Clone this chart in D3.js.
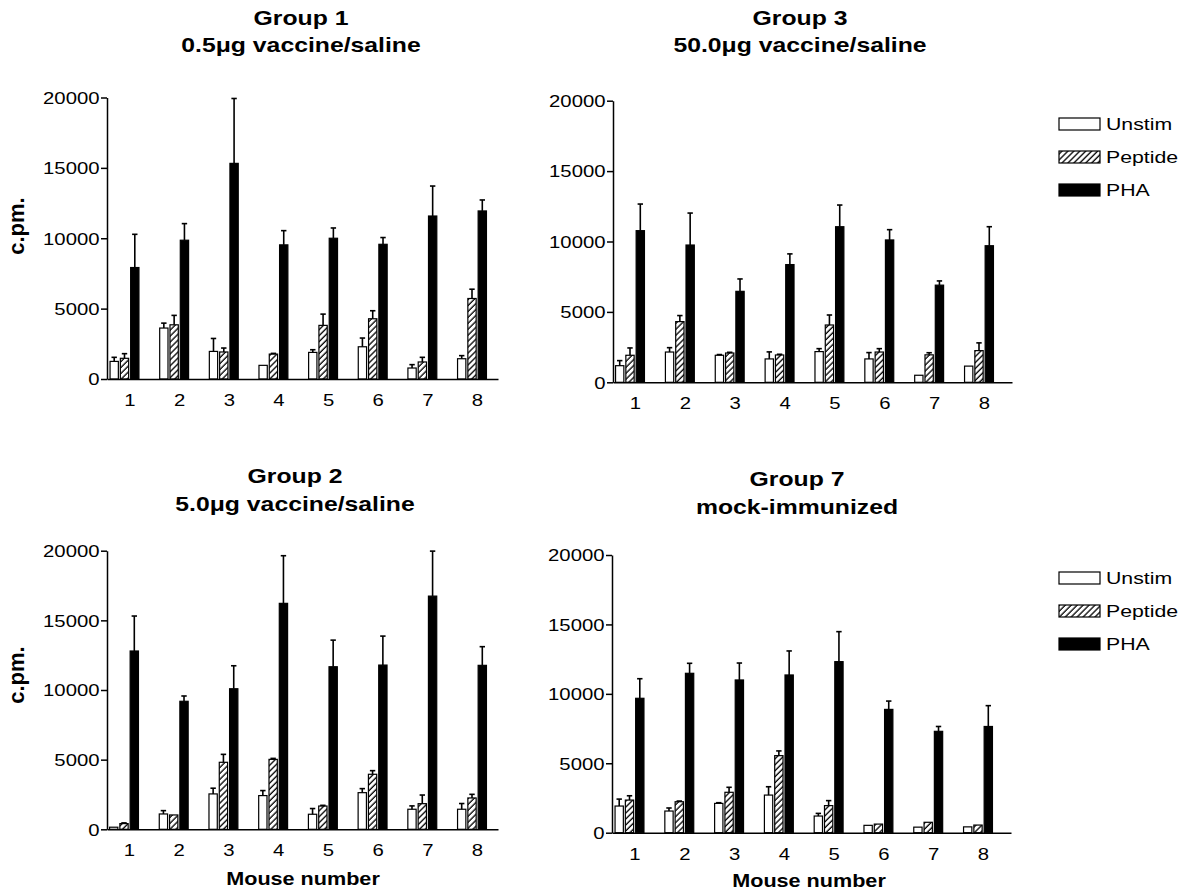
<!DOCTYPE html>
<html><head><meta charset="utf-8">
<script src="https://cdn.jsdelivr.net/npm/d3@7"></script>
<style>body{margin:0;background:#fff}</style>
</head><body>
<svg id="c" width="1192" height="894"></svg>
<script>
// ---------------- data ----------------
const mice = [1, 2, 3, 4, 5, 6, 7, 8];
const seriesNames = ["Unstim", "Peptide", "PHA"];
const yTicks = [0, 5000, 10000, 15000, 20000];

// Group 1 — 0.5µg vaccine/saline
const g1Unstim     = [1250, 3620, 1960, 970, 1890, 2290, 780, 1440];
const g1UnstimErr  = [290, 350, 920, 0, 190, 620, 240, 220];
const g1Peptide    = [1470, 3850, 1920, 1770, 3810, 4280, 1210, 5720];
const g1PeptideErr = [330, 670, 280, 50, 800, 570, 330, 660];
const g1PHA        = [7920, 9860, 15320, 9530, 10000, 9570, 11580, 11940];
const g1PHAErr     = [2360, 1180, 4610, 1010, 730, 480, 2130, 780];

// Group 3 — 50.0µg vaccine/saline
const g3Unstim     = [1180, 2150, 1920, 1660, 2180, 1660, 500, 1150];
const g3UnstimErr  = [360, 310, 50, 500, 210, 450, 0, 0];
const g3Peptide    = [1920, 4310, 2080, 1940, 4070, 2150, 1950, 2250];
const g3PeptideErr = [520, 430, 50, 50, 710, 240, 150, 550];
const g3PHA        = [10770, 9750, 6460, 8360, 11050, 10110, 6900, 9700];
const g3PHAErr     = [1890, 2270, 880, 760, 1540, 730, 300, 1350];

// Group 2 — 5.0µg vaccine/saline
const g2Unstim     = [150, 1100, 2540, 2420, 1080, 2630, 1440, 1440];
const g2UnstimErr  = [0, 240, 410, 360, 410, 290, 240, 410];
const g2Peptide    = [410, 1030, 4810, 5020, 1670, 3950, 1840, 2250];
const g2PeptideErr = [50, 0, 570, 70, 50, 260, 620, 260];
const g2PHA        = [12800, 9190, 10090, 16220, 11670, 11790, 16740, 11770];
const g2PHAErr     = [2510, 380, 1650, 3420, 1910, 2080, 3230, 1340];

// Group 7 — mock-immunized
const g7Unstim     = [1920, 1560, 2110, 2710, 1200, 530, 400, 420];
const g7UnstimErr  = [500, 220, 50, 600, 190, 0, 0, 0];
const g7Peptide    = [2350, 2230, 2910, 5550, 1950, 620, 750, 550];
const g7PeptideErr = [310, 50, 360, 340, 360, 0, 0, 0];
const g7PHA        = [9680, 11480, 11000, 11360, 12320, 8880, 7300, 7650];
const g7PHAErr     = [1410, 720, 1220, 1730, 2160, 600, 350, 1500];

// ---------------- layout ----------------
const SX = 1.27;              // horizontal stretch of the scanned lettering
const FONT = "'Liberation Sans', Arial, Helvetica, sans-serif";
const svg = d3.select("#c");

const defs = svg.append("defs");
const pat = defs.append("pattern").attr("id", "hatch")
  .attr("patternUnits", "userSpaceOnUse").attr("width", 4.2).attr("height", 4.2)
  .attr("patternTransform", "rotate(45)");
pat.append("rect").attr("width", 4.2).attr("height", 4.2).attr("fill", "#fff");
pat.append("line").attr("x1", 1).attr("y1", 0).attr("x2", 1).attr("y2", 4.2)
  .attr("stroke", "#000").attr("stroke-width", 1.3);

const fills = ["#fff", "url(#hatch)", "#000"];

const panels = [
  { t1: "Group 1", t2: "0.5\u03bcg vaccine/saline", vals: [g1Unstim, g1Peptide, g1PHA], errs: [g1UnstimErr, g1PeptideErr, g1PHAErr],
    x0: 107, xEnd: 498, yTop: 97.5, yBot: 379, c1: 124.5, c8: 472, tx: 301, tb1: 25, tb2: 52, ylab: [24, 226], xlab: null, legend: null },
  { t1: "Group 3", t2: "50.0\u03bcg vaccine/saline", vals: [g3Unstim, g3Peptide, g3PHA], errs: [g3UnstimErr, g3PeptideErr, g3PHAErr],
    x0: 613, xEnd: 1012, yTop: 100.7, yBot: 382.3, c1: 630, c8: 979, tx: 800, tb1: 25, tb2: 52, ylab: null, xlab: null, legend: 124 },
  { t1: "Group 2", t2: "5.0\u03bcg vaccine/saline", vals: [g2Unstim, g2Peptide, g2PHA], errs: [g2UnstimErr, g2PeptideErr, g2PHAErr],
    x0: 107, xEnd: 498, yTop: 550.7, yBot: 829.3, c1: 124, c8: 472, tx: 295, tb1: 483, tb2: 511, ylab: [24, 675], xlab: [303, 885], legend: null },
  { t1: "Group 7", t2: "mock-immunized", vals: [g7Unstim, g7Peptide, g7PHA], errs: [g7UnstimErr, g7PeptideErr, g7PHAErr],
    x0: 612, xEnd: 1011, yTop: 555, yBot: 832.7, c1: 629.5, c8: 978, tx: 797, tb1: 486, tb2: 514, ylab: null, xlab: [809, 887], legend: 578 }
];

const barW = 8.3, barStep = 10.3;

function stretchText(g, x, y, str, size, weight) {
  return g.append("text")
    .attr("transform", `translate(${x},${y}) scale(${SX},1)`)
    .attr("text-anchor", "middle")
    .attr("font-family", FONT).attr("font-size", size).attr("font-weight", weight || "normal")
    .attr("fill", "#000").text(str);
}

panels.forEach(p => {
  const g = svg.append("g");
  const y = d3.scaleLinear().domain([0, 20000]).range([p.yBot, p.yTop]);
  const pitch = (p.c8 - p.c1) / 7;
  const x = d3.scaleLinear()
    .domain([1 - (p.c1 - p.x0) / pitch, 8 + (p.xEnd - p.c8) / pitch])
    .range([p.x0, p.xEnd]);

  // bars
  seriesNames.forEach((s, k) => {
    const vals = p.vals[k], errs = p.errs[k];
    const off = (k - 1) * barStep;
    g.append("g").selectAll("rect").data(mice).enter().append("rect")
      .attr("x", (m) => x(m) + off - barW / 2)
      .attr("y", (m, i) => y(vals[i]))
      .attr("width", barW)
      .attr("height", (m, i) => y(0) - y(vals[i]))
      .attr("fill", fills[k]).attr("stroke", "#000").attr("stroke-width", 1.2);
    // error bars
    const eb = g.append("g").attr("stroke", "#000").attr("stroke-width", 1.6);
    eb.selectAll("line.v").data(mice.filter((m, i) => errs[i] > 0)).enter().append("line")
      .attr("x1", m => x(m) + off).attr("x2", m => x(m) + off)
      .attr("y1", m => y(vals[m - 1])).attr("y2", m => y(vals[m - 1] + errs[m - 1]));
    eb.selectAll("line.c").data(mice.filter((m, i) => errs[i] > 0)).enter().append("line")
      .attr("x1", m => x(m) + off - 2.7).attr("x2", m => x(m) + off + 2.7)
      .attr("y1", m => y(vals[m - 1] + errs[m - 1])).attr("y2", m => y(vals[m - 1] + errs[m - 1]));
  });

  // y axis
  const ya = g.append("g").attr("transform", `translate(${p.x0},0)`)
    .call(d3.axisLeft(y).tickValues(yTicks).tickSizeInner(6).tickSizeOuter(0).tickFormat(d3.format("d")));
  ya.selectAll("path,line").attr("stroke", "#000").attr("stroke-width", 1.5);
  ya.selectAll("text").attr("font-family", FONT).attr("font-size", 16).attr("fill", "#000")
    .attr("x", -7.5 / SX).attr("dy", "0.36em").attr("transform", `scale(${SX},1)`);

  // x axis
  const xa = g.append("g").attr("transform", `translate(0,${p.yBot})`)
    .call(d3.axisBottom(x).tickValues(mice).tickSizeInner(0).tickSizeOuter(0).tickFormat(d3.format("d")));
  xa.select("path").attr("stroke", "#000").attr("stroke-width", 1.5);
  xa.selectAll("text").attr("font-family", FONT).attr("font-size", 16).attr("fill", "#000")
    .attr("y", 27).attr("dy", 0).attr("transform", `translate(5,0) scale(${SX},1)`);

  // titles
  stretchText(g, p.tx, p.tb1, p.t1, 19.5, "bold");
  stretchText(g, p.tx, p.tb2, p.t2, 19.5, "bold");

  if (p.ylab) {
    g.append("text").attr("transform", `translate(${p.ylab[0]},${p.ylab[1]}) rotate(-90)`)
      .attr("text-anchor", "middle").attr("font-family", FONT).attr("font-size", 22)
      .attr("font-weight", "bold").attr("fill", "#000").text("c.pm.");
  }
  if (p.xlab) {
    g.append("text").attr("transform", `translate(${p.xlab[0]},${p.xlab[1]}) scale(1.2,1)`)
      .attr("text-anchor", "middle").attr("font-family", FONT).attr("font-size", 18)
      .attr("font-weight", "bold").attr("fill", "#000").text("Mouse number");
  }
  if (p.legend !== null) {
    const lg = svg.append("g");
    seriesNames.forEach((s, k) => {
      const cy = p.legend + k * 33;
      lg.append("rect").attr("x", 1059).attr("y", cy - 6).attr("width", 41).attr("height", 12)
        .attr("fill", fills[k]).attr("stroke", "#000").attr("stroke-width", 1.2);
      lg.append("text").attr("transform", `translate(1106,${cy + 6}) scale(1.25,1)`)
        .attr("font-family", FONT).attr("font-size", 17).attr("fill", "#000").text(s);
    });
  }
});
</script></body></html>
